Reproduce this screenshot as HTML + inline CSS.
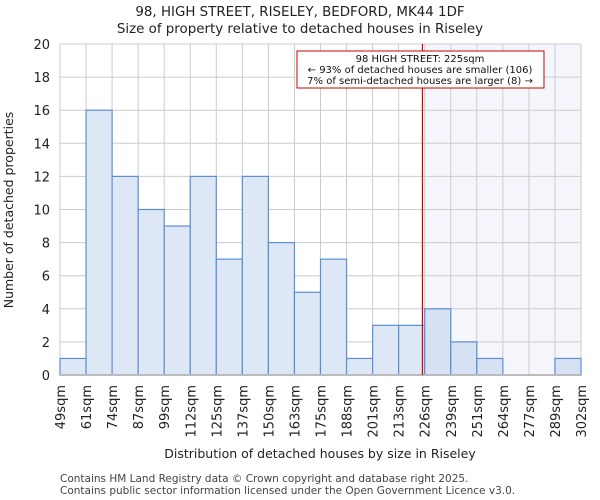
<!DOCTYPE html>
<html><head><meta charset="utf-8"><style>
body{margin:0;background:#fff;font-family:"DejaVu Sans","Liberation Sans",sans-serif;}
svg{display:block}
</style></head><body>
<svg id="chart" width="600" height="500" viewBox="0 0 600 500">
<text x="300" y="16" text-anchor="middle" font-size="13.4" fill="#222">98, HIGH STREET, RISELEY, BEDFORD, MK44 1DF</text>
<text x="300" y="33" text-anchor="middle" font-size="13.4" fill="#222">Size of property relative to detached houses in Riseley</text>
<g id="plot"></g>
<text x="13" y="210" text-anchor="middle" font-size="12.5" fill="#222" transform="rotate(-90 13 210)">Number of detached properties</text>
<text x="320" y="458" text-anchor="middle" font-size="12.5" fill="#222">Distribution of detached houses by size in Riseley</text>
<text x="60" y="482" font-size="10.5" fill="#444">Contains HM Land Registry data © Crown copyright and database right 2025.</text>
<text x="60" y="494" font-size="10.5" fill="#444">Contains public sector information licensed under the Open Government Licence v3.0.</text>
</svg>
<script>
const binLabels=["49sqm","61sqm","74sqm","87sqm","99sqm","112sqm","125sqm","137sqm","150sqm","163sqm","175sqm","188sqm","201sqm","213sqm","226sqm","239sqm","251sqm","264sqm","277sqm","289sqm","302sqm"];
const counts=[1,16,12,10,9,12,7,12,8,5,7,1,3,3,4,2,1,0,0,1];
const yTicks=[0,2,4,6,8,10,12,14,16,18,20];
const minSize=49, maxSize=302, propSize=225;
const annLines=["98 HIGH STREET: 225sqm","← 93% of detached houses are smaller (106)","7% of semi-detached houses are larger (8) →"];
const L=60,R=581,T=44,B=375,ns="http://www.w3.org/2000/svg";
const n=counts.length,bw=(R-L)/n;
const xs=v=>L+(v-minSize)/(maxSize-minSize)*(R-L);
const ys=v=>B-v/20*(B-T);
const g=document.getElementById('plot');
function mk(t,a){const e=document.createElementNS(ns,t);for(const k in a)e.setAttribute(k,a[k]);g.appendChild(e);return e;}
const px=xs(propSize);
const sh=mk('rect',{x:px,y:T,width:R-px,height:B-T,fill:'#f4f6fc'});


yTicks.forEach(v=>{const l=mk('line',{x1:L,x2:R,y1:ys(v),y2:ys(v),stroke:'#ccc','stroke-width':1});


const t=mk('text',{x:L-10,y:ys(v)+5,'text-anchor':'end','font-size':13,fill:'#222'});t.textContent=v;

});
for(let i=0;i<=n;i++){const x=L+i*bw;const l=mk('line',{x1:x,x2:x,y1:T,y2:B,stroke:'#ccc','stroke-width':1});


const t=mk('text',{x:x+5,y:B+10,'text-anchor':'end','font-size':13,fill:'#222',transform:`rotate(-90 ${x+5} ${B+10})`});t.textContent=binLabels[i];

}
counts.forEach((c,i)=>{if(!c)return;const x=L+i*bw;const inR=x>=px-1;
const r=mk('rect',{x:x,y:ys(c),width:bw,height:B-ys(c),fill:inR?'#d6e1f3':'#dee7f5',stroke:'#5a8fd6','stroke-width':1.2});

});
const ax=mk('line',{x1:L,x2:R,y1:B,y2:B,stroke:'#bbb','stroke-width':2});


const rl=mk('line',{x1:px,x2:px,y1:T,y2:B,stroke:'#d00','stroke-width':1.2});


const bx=mk('rect',{x:297,y:51,width:247,height:37,fill:'#fff',stroke:'#c00','stroke-width':1});


annLines.forEach((s,i)=>{const t=mk('text',{x:420,y:62+i*11,'text-anchor':'middle','font-size':10,fill:'#111'});t.textContent=s;

});
</script>
</body></html>
